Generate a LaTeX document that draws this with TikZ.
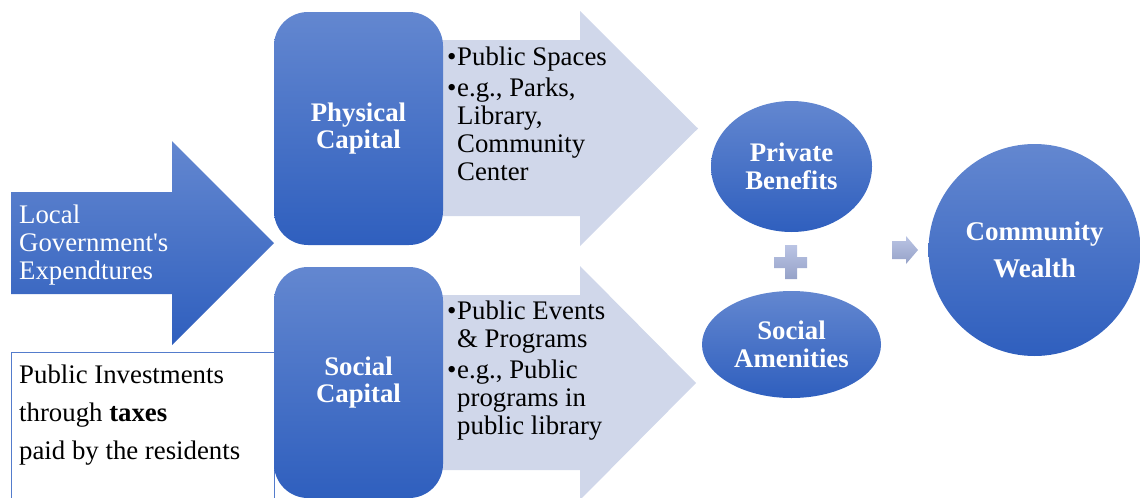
\documentclass[tikz,border=0pt]{standalone}
\usepackage{fontspec}
\setmainfont{Liberation Serif}
\usetikzlibrary{shapes.geometric}

\definecolor{capTop}{RGB}{99,135,208}
\definecolor{capBot}{RGB}{47,95,190}
\definecolor{paleArrow}{RGB}{208,215,234}
\definecolor{plusTop}{RGB}{186,196,228}
\definecolor{plusBot}{RGB}{150,162,200}
\definecolor{boxLine}{RGB}{84,124,204}

\newcommand{\bfont}{\fontsize{26.8}{27.7}\selectfont}
\newcommand{\bul}{\makebox[10pt][l]{\textbullet}}
\newcommand{\ind}{\hspace*{10pt}}

\tikzset{
  blueshade/.style={top color=capTop, bottom color=capBot, draw=none},
  capbox/.style={blueshade, rounded corners=34pt, minimum width=169pt, text=white,
    font=\bfont\bfseries, align=center},
  goal/.style={ellipse, blueshade, inner sep=0pt, text=white, font=\bfont\bfseries, align=center},
  notes/.style={anchor=base west, inner sep=0pt, font=\bfont, align=left},
  pale/.style={fill=paleArrow, draw=none}
}

\begin{document}
\begin{tikzpicture}[x=1pt, y=-1pt]
		\useasboundingbox (0,0) rectangle (1141,498);
		\clip (0,0) rectangle (1141,498);
		\fill[pale] (440,40) -- (580,40) -- (580,11) -- (698,128.5) -- (580,246) -- (580,216) -- (440,216) -- cycle;
		\fill[pale] (440,295) -- (580,295) -- (580,266) -- (696,383) -- (580,500) -- (580,470) -- (440,470) -- cycle;
		\path[blueshade] (11,192) -- (172,192) -- (172,141) -- (274,243) -- (172,345) -- (172,294) -- (11,294) -- cycle;
		\draw[boxLine, line width=1pt] (11,352) rectangle (274,520);
		\node[notes, text=white] (exp) at (19,279) {Local\\Government\textquotesingle s\\Expendtures};
		\node[notes, font=\fontsize{26.8}{37.7}\selectfont] (tax) at (19,459) {Public Investments\\through \textbf{taxes}\\paid by the residents};
		\node[capbox, minimum height=233pt] (phys) at (358.5,128.5) {Physical\\Capital};
		\node[capbox, minimum height=231pt] (soc) at (358.5,382.5) {Social\\Capital};
		\node[notes] (spaces) at (447,180) {\bul Public Spaces\\[4pt]\bul e.g., Parks,\\\ind Library,\\\ind Community\\\ind Center};
		\node[notes] (events) at (447,434.3) {\bul Public Events\\\ind \& Programs\\[4pt]\bul e.g., Public\\\ind programs in\\\ind public library};
		\node[goal, minimum width=161pt, minimum height=131pt] (priv) at (791.5,166.5) {Private\\Benefits};
		\node[goal, minimum width=179pt, minimum height=107pt] (amen) at (791.5,344.5) {Social\\Amenities};
		\path[top color=plusTop, bottom color=plusBot] (785,245) -- (797,245) -- (797,257) -- (807,257) -- (807,268) -- (797,268) -- (797,279) -- (785,279) -- (785,268) -- (774,268) -- (774,257) -- (785,257) -- cycle;
		\path[top color=plusTop, bottom color=plusBot] (892,241) -- (906,241) -- (906,236) -- (918,250) -- (906,264) -- (906,259) -- (892,259) -- cycle;
		\node[goal, circle, minimum size=212pt, font=\fontsize{27}{37}\selectfont\bfseries] (wealth) at (1034.5,250) {Community\\Wealth};
\end{tikzpicture}
\end{document}
